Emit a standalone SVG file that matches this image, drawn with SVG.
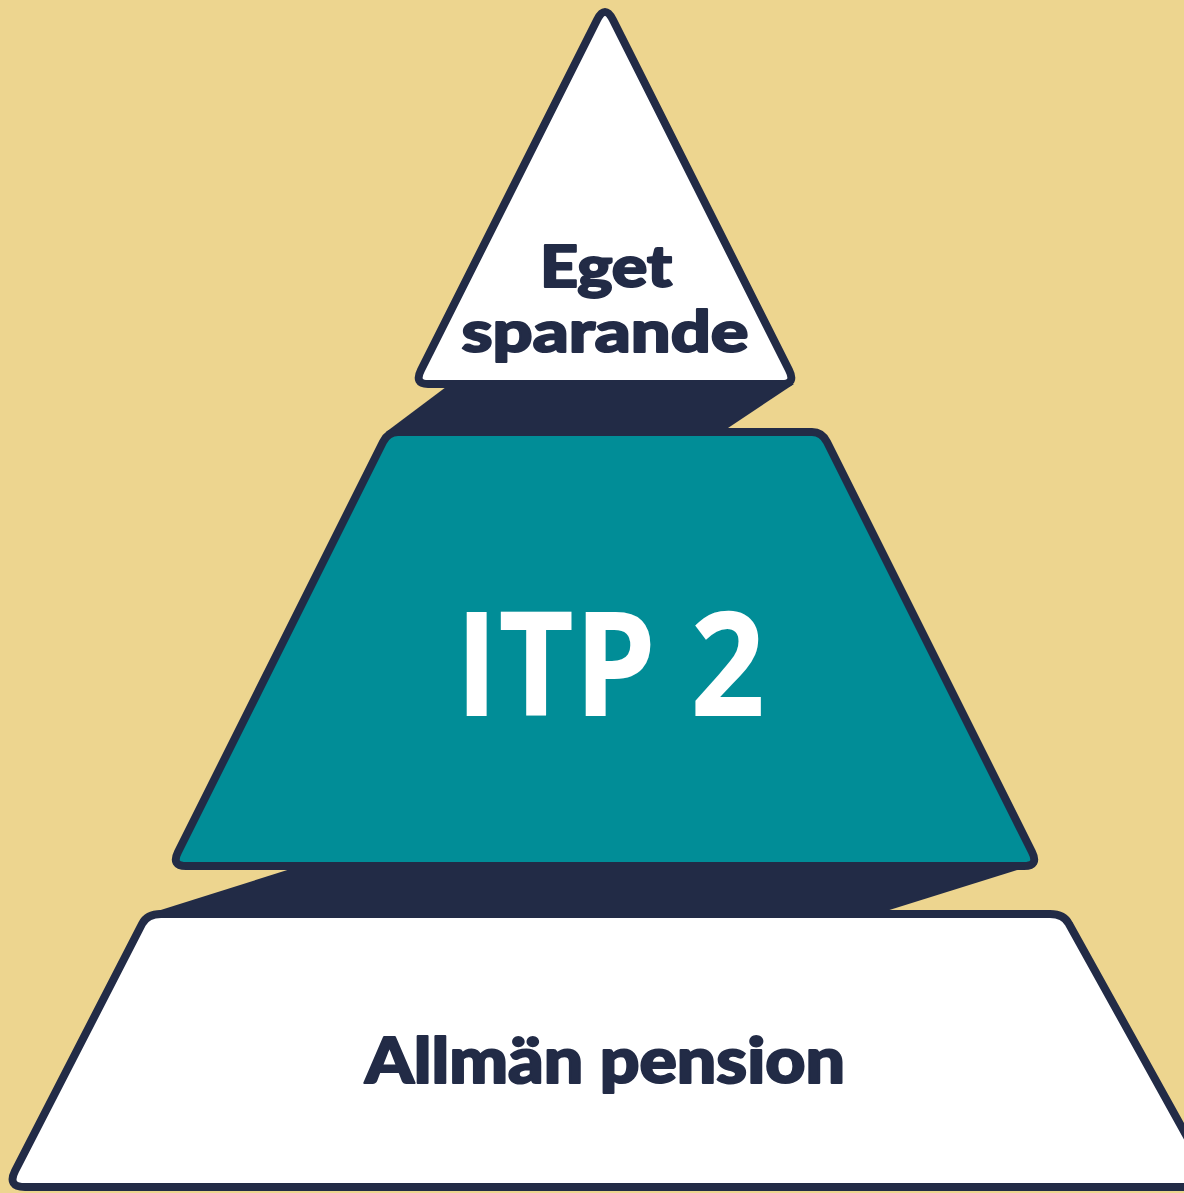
<svg xmlns="http://www.w3.org/2000/svg" width="1184" height="1193" viewBox="0 0 1184 1193">
<style>
.bg{fill:#EDD58F}
.shadow{fill:#222B46}
.tier{stroke:#222B46;stroke-width:8;stroke-linejoin:round}
.white{fill:#FFFFFF}
.teal{fill:#018D97}
.lbl{font-family:Lato,"Noto Sans","DejaVu Sans",sans-serif;font-weight:900;fill:#222B46;stroke:#222B46;stroke-width:2;stroke-linejoin:round;text-anchor:middle}
.big{font-family:"Open Sans","Noto Sans","Liberation Sans",sans-serif;font-weight:700;fill:#FFFFFF;text-anchor:middle}
</style>
<rect class="bg" x="0" y="0" width="1184" height="1193"/>
<g id="connectors">
<polygon class="shadow" points="450,384 794,384 722,432 386,432"/>
<polygon class="shadow" points="300,866 1030,866 883,912 148,914"/>
</g>
<g id="tier-eget">
<path class="tier white" d="M597,20 Q605,4 613,20 L789,370 Q796,384 782,384 L428,384 Q414,384 421,370 Z"/>
<text class="lbl" x="606" y="287" font-size="58" textLength="132" lengthAdjust="spacingAndGlyphs">Eget</text>
<text class="lbl" x="605" y="352" font-size="58" textLength="287" lengthAdjust="spacingAndGlyphs">sparande</text>
</g>
<g id="tier-itp">
<path class="tier teal" d="M398,432 L812,432 Q822,432 827,442 L1032,852 Q1039,866 1024,866 L186,866 Q171,866 178,852 L383,442 Q388,432 398,432 Z"/>
<text class="big" x="610" y="716" font-size="146" textLength="310" lengthAdjust="spacingAndGlyphs">ITP 2</text>
</g>
<g id="tier-allman">
<path class="tier white" d="M161,914 L1050,914 Q1064,914 1069,924 L1215,1187 L25,1187 Q7,1187 15,1171 L142,924 Q147,914 161,914 Z"/>
<text class="lbl" x="605" y="1083" font-size="62" textLength="480" lengthAdjust="spacingAndGlyphs">Allmän pension</text>
</g>
</svg>
